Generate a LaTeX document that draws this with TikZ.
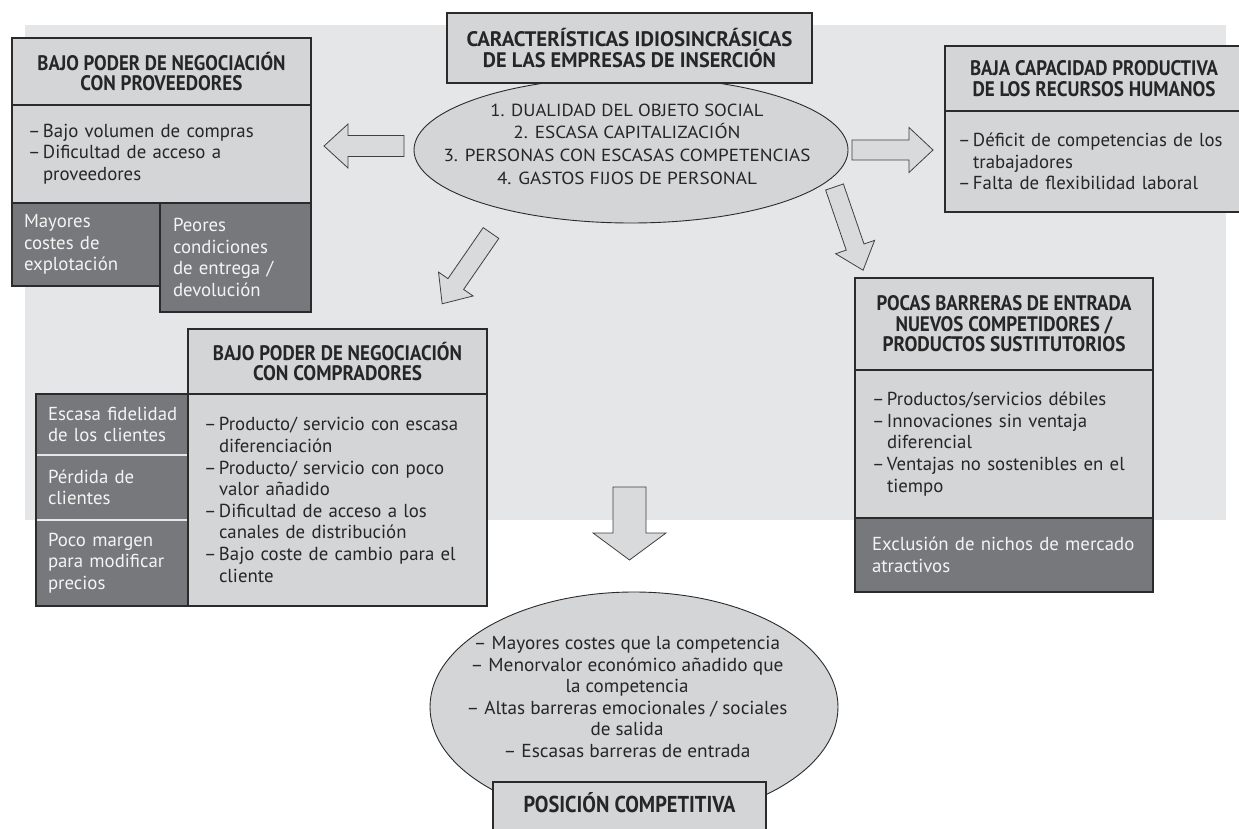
\documentclass[tikz,border=0pt]{standalone}
\usepackage{fontspec}
\usepackage{graphicx}
\setmainfont{PT Sans}
\newfontfamily\condf{PT Sans}
\newfontfamily\bodyf{PT Sans}
\newfontfamily\capsf{PT Sans}
\usetikzlibrary{shapes.geometric}
\definecolor{bggray}{HTML}{E5E6E7}
\definecolor{boxfill}{HTML}{D4D5D7}
\definecolor{darkfill}{HTML}{77787B}
\definecolor{arrfill}{HTML}{D9DADB}
\definecolor{linecol}{HTML}{2B2B2B}
\definecolor{txtcol}{HTML}{262626}
\definecolor{lighttxt}{HTML}{F4F4F4}
\newcommand\itm[1]{\mbox{\makebox[15pt][l]{–}#1}}
\newcommand\cnt[1]{\mbox{\hspace*{15pt}#1}}
\newcommand\tl[2]{\resizebox{#1pt}{\height}{#2}}
\newcommand\myarrow[4]{%
  \draw[arr] (0,-#3) -- ({#1-#2},-#3) -- ({#1-#2},-#4) -- (#1,0) -- ({#1-#2},#4) -- ({#1-#2},#3) -- (0,#3) -- cycle;}
\begin{document}
\begin{tikzpicture}[x=1pt,y=-1pt,
  box/.style={draw=linecol, line width=1.1pt, fill=boxfill, inner sep=0pt, outer sep=0pt, anchor=north west, text=txtcol},
  dbox/.style={box, fill=darkfill, text=lighttxt},
  ttl/.style={font=\condf\bfseries\fontsize{21}{20.5}\selectfont, align=center},
  body/.style={font=\bodyf\fontsize{18.8}{21.6}\selectfont, align=left},
  oval/.style={ellipse, draw=linecol, line width=0.9pt, fill=boxfill, inner sep=0pt},
  arr/.style={draw=linecol!90, line width=0.8pt, fill=arrfill, line join=miter},
  sepline/.style={draw=bggray, line width=1.6pt}
]
\useasboundingbox (0,0) rectangle (1239,829);
\fill[bggray] (25,25) rectangle (1226,520);

% block arrows
\begin{scope}[shift={(404,146)}, rotate=180]\myarrow{80}{24}{10.5}{22}\end{scope}
\begin{scope}[shift={(852,150)}]\myarrow{81}{24}{10}{22.5}\end{scope}
\begin{scope}[shift={(491,233)}, rotate=-124.6]\myarrow{86}{24}{9.5}{21}\end{scope}
\begin{scope}[shift={(834.5,187)}, rotate=-71.05]\myarrow{88}{24.5}{9.4}{20.6}\end{scope}
\begin{scope}[shift={(629.5,487)}, rotate=-90]\myarrow{73}{27}{16.5}{36.5}\end{scope}

% central characteristics
\node[oval, minimum width=434, minimum height=146] (charE) at (631,150) {};
\node[font=\capsf\fontsize{17.5}{22.6}\selectfont, align=center, text=txtcol, inner sep=0] (charEt) at (627,144)
  {\tl{273}{1. DUALIDAD DEL OBJETO SOCIAL}\\\tl{227}{2. ESCASA CAPITALIZACIÓN}\\\tl{367}{3. PERSONAS CON ESCASAS COMPETENCIAS}\\\tl{260}{4. GASTOS FIJOS DE PERSONAL}};
\node[box, ttl, minimum width=365, minimum height=70] (charT) at (447,13)
  {\tl{326}{CARACTERÍSTICAS IDIOSINCRÁSICAS}\\\tl{293}{DE LAS EMPRESAS DE INSERCIÓN}};

% suppliers
\node[box, ttl, minimum width=299, minimum height=67] (provT) at (12,38)
  {\tl{248}{BAJO PODER DE NEGOCIACIÓN}\\\tl{162}{CON PROVEEDORES}};
\node[box, body, minimum width=299, minimum height=98, text width=267] (provB) at (12,105)
  {\itm{Bajo volumen de compras}\\\itm{Dificultad de acceso a}\\\cnt{proveedores}};
\node[dbox, body, minimum width=148, minimum height=83, text width=124] (provD1) at (12,203)
  {\mbox{Mayores}\\\mbox{costes de}\\\mbox{explotación}};
\node[dbox, body, minimum width=151, minimum height=109, text width=125] (provD2) at (160,203)
  {\mbox{Peores}\\\mbox{condiciones}\\\mbox{de entrega /}\\\mbox{devolución}};

% human resources
\node[box, ttl, minimum width=298, minimum height=65] (rrT) at (945,46)
  {\tl{248}{BAJA CAPACIDAD PRODUCTIVA}\\\tl{243}{DE LOS RECURSOS HUMANOS}};
\node[box, body, minimum width=298, minimum height=101, text width=272] (rrB) at (945,111)
  {\itm{Déficit de competencias de los}\\\cnt{trabajadores}\\\itm{Falta de flexibilidad laboral}};

% buyers
\node[box, ttl, minimum width=299, minimum height=65] (compT) at (188,329)
  {\tl{249}{BAJO PODER DE NEGOCIACIÓN}\\\tl{169}{CON COMPRADORES}};
\node[box, body, minimum width=299, minimum height=212, text width=267] (compB) at (188,394)
  {\itm{Producto/ servicio con escasa}\\\cnt{diferenciación}\\\itm{Producto/ servicio con poco}\\\cnt{valor añadido}\\\itm{Dificultad de acceso a los}\\\cnt{canales de distribución}\\\itm{Bajo coste de cambio para el}\\\cnt{cliente}};
\node[dbox, body, minimum width=152, minimum height=61, text width=128] (compD1) at (36,394)
  {\mbox{Escasa fidelidad}\\\mbox{de los clientes}};
\node[dbox, body, minimum width=152, minimum height=65, text width=128] (compD2) at (36,455)
  {\mbox{Pérdida de}\\\mbox{clientes}};
\node[dbox, body, minimum width=152, minimum height=86, text width=128] (compD3) at (36,520)
  {\mbox{Poco margen}\\\mbox{para modificar}\\\mbox{precios}};
\draw[sepline] ([xshift=1pt]compD1.south west) -- ([xshift=-1pt]compD1.south east);
\draw[sepline] ([xshift=1pt]compD2.south west) -- ([xshift=-1pt]compD2.south east);

% entry barriers
\node[box, ttl, minimum width=298, minimum height=92] (barT) at (855,278)
  {\tl{255}{POCAS BARRERAS DE ENTRADA}\\\tl{217}{NUEVOS COMPETIDORES /}\\\tl{243}{PRODUCTOS SUSTITUTORIOS}};
\node[box, body, minimum width=298, minimum height=148, text width=264] (barB) at (855,370)
  {\itm{Productos/servicios débiles}\\\itm{Innovaciones sin ventaja}\\\cnt{diferencial}\\\itm{Ventajas no sostenibles en el}\\\cnt{tiempo}};
\node[dbox, body, minimum width=298, minimum height=74, text width=264] (barD) at (855,518)
  {\mbox{Exclusión de nichos de mercado}\\\mbox{atractivos}};

% competitive position
\node[oval, minimum width=408, minimum height=230] (posE) at (634,707) {};
\node[body, align=center, text=txtcol, inner sep=0] (posEt) at (627,697)
  {\tl{306}{– Mayores costes que la competencia}\\\tl{313}{– Menorvalor económico añadido que}\\\tl{123}{la competencia}\\\tl{321}{– Altas barreras emocionales / sociales}\\\tl{73}{de salida}\\\tl{247}{– Escasas barreras de entrada}};
\node[box, minimum width=273, minimum height=60] (posT) at (493,782) {};
\node[font=\condf\bfseries\fontsize{23}{23}\selectfont, text=txtcol, inner sep=0] (posTt) at (629.5,803) {\tl{212}{POSICIÓN COMPETITIVA}};
\end{tikzpicture}
\end{document}
